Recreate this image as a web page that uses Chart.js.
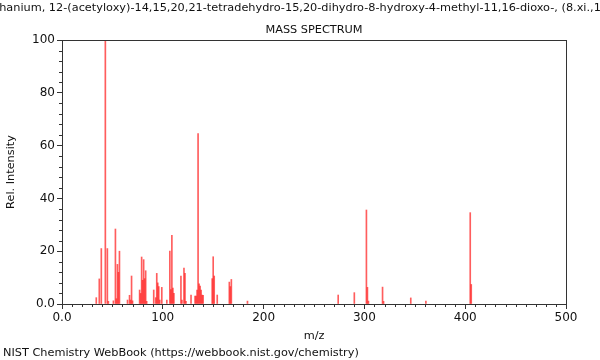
<!DOCTYPE html>
<html>
<head>
<meta charset="utf-8">
<script src="https://cdn.jsdelivr.net/npm/chart.js@4/dist/chart.umd.min.js"></script>
<style>
  html, body { margin:0; padding:0; background:#fff; }
  #wrap { width:600px; height:360px; position:relative; }
</style>
</head>
<body>
<div id="wrap"><canvas id="ms"></canvas></div>
<script>
var TITLE = 'hanium, 12-(acetyloxy)-14,15,20,21-tetradehydro-15,20-dihydro-8-hydroxy-4-methyl-11,16-dioxo-, (8.xi.,1';
var SUBTITLE = 'MASS SPECTRUM';
var FOOTER = 'NIST Chemistry WebBook (https://webbook.nist.gov/chemistry)';

var MZ = [34,37,39,43,45,46,51,53,54,55,56,57,65,67,68,69,70,
  77,78,79,80,81,82,83,84,91,93,94,95,96,97,99,104,107,108,109,110,111,
  118,119,121,122,123,128,132,133,134,135,136,137,138,139,140,
  149,150,151,154,166,167,168,184,274,290,302,303,304,318,319,346,361,405,406];
var INTENSITY = [2.4,9.5,21,100,21,1,1.2,28.4,2,15,12,20,1.5,3.3,1.5,10.6,1.2,
  5.3,4,17.8,9,16.8,9.6,12.6,1,5.3,2.4,11.6,8,6.6,1.5,6.3,1.5,20,5.5,26,6,4,
  10.6,1.5,13.6,11.6,1,3.4,3,3,5.3,64.6,7.6,6.8,5.3,3.4,3.3,
  9.6,17.9,10.6,3.4,8.3,6.6,9.3,1.1,3.4,4.3,35.6,6.3,1.1,6.4,1,2.3,1.1,34.6,7.4];

var X_MIN = 0, X_MAX = 500, X_MAJOR = 100, X_MINOR = 10;
var Y_MIN = 0, Y_MAX = 100, Y_MAJOR = 20, Y_MINOR = 4;

var FONT = 'DejaVu Sans';
var TEXT_SIZE = 11.3;
var AXIS = '#333';

var decor = {
  id: 'decor',
  afterDraw: function(chart) {
    var ctx = chart.ctx, a = chart.chartArea;
    var xs = chart.scales.x, ys = chart.scales.y;
    ctx.save();
    ctx.strokeStyle = AXIS;
    ctx.lineWidth = 1;
    ctx.strokeRect(Math.round(a.left) + 0.5, Math.round(a.top) + 0.5,
      Math.round(a.right - a.left), Math.round(a.bottom - a.top));
    // minor ticks
    ctx.beginPath();
    for (var v = X_MIN; v <= X_MAX; v += X_MINOR) {
      if (v % X_MAJOR === 0) continue;
      var px = Math.round(xs.getPixelForValue(v)) + 0.5;
      ctx.moveTo(px, a.bottom); ctx.lineTo(px, a.bottom + 3);
    }
    for (var w = Y_MIN; w <= Y_MAX; w += Y_MINOR) {
      if (w % Y_MAJOR === 0) continue;
      var py = Math.round(ys.getPixelForValue(w)) + 0.5;
      ctx.moveTo(a.left, py); ctx.lineTo(a.left - 3, py);
    }
    ctx.stroke();
    // texts
    ctx.fillStyle = '#111';
    ctx.font = TEXT_SIZE + 'px "' + FONT + '"';
    ctx.textBaseline = 'middle';
    ctx.textAlign = 'center';
    ctx.fillText(TITLE, chart.width / 2, 8);
    ctx.fillText(SUBTITLE, (a.left + a.right) / 2, 30);
    ctx.textAlign = 'left';
    ctx.fillText(FOOTER, 3, 353);
    ctx.restore();
  }
};

new Chart(document.getElementById('ms'), {
  type: 'bar',
  data: {
    datasets: [{
      data: MZ.map(function(m, i) { return {x: m, y: INTENSITY[i]}; }),
      backgroundColor: 'rgba(255,30,30,0.72)',
      borderWidth: 0,
      barThickness: 1,
      grouped: false
    }]
  },
  options: {
    responsive: true,
    maintainAspectRatio: false,
    animation: false,
    layout: { padding: { top: 40, right: 34, left: 0, bottom: 15 } },
    plugins: { legend: { display: false }, tooltip: { enabled: false } },
    scales: {
      x: {
        type: 'linear', min: X_MIN, max: X_MAX, offset: false,
        grid: { display: true, offset: false, drawOnChartArea: false, drawTicks: true, tickLength: 5, color: AXIS },
        border: { display: true, color: AXIS },
        ticks: { stepSize: X_MAJOR, color: '#111', font: { family: FONT, size: 12 }, padding: 2,
          maxRotation: 0, callback: function(v) { return v === 0 ? '0.0' : String(v); } },
        title: { display: true, text: 'm/z', color: '#111', font: { family: FONT, size: TEXT_SIZE }, padding: 2 },
        afterFit: function(s) { s.height = 360 - 304 - 15; }
      },
      y: {
        min: Y_MIN, max: Y_MAX,
        grid: { display: true, drawOnChartArea: false, drawTicks: true, tickLength: 5, color: AXIS },
        border: { display: true, color: AXIS },
        ticks: { stepSize: Y_MAJOR, color: '#111', font: { family: FONT, size: 12 }, padding: 2,
          callback: function(v) { return v === 0 ? '0.0' : String(v); } },
        title: { display: true, text: 'Rel. Intensity', color: '#111', font: { family: FONT, size: TEXT_SIZE }, padding: 4 },
        afterFit: function(s) { s.width = 62; }
      }
    }
  },
  plugins: [decor]
});
</script>
</body>
</html>
